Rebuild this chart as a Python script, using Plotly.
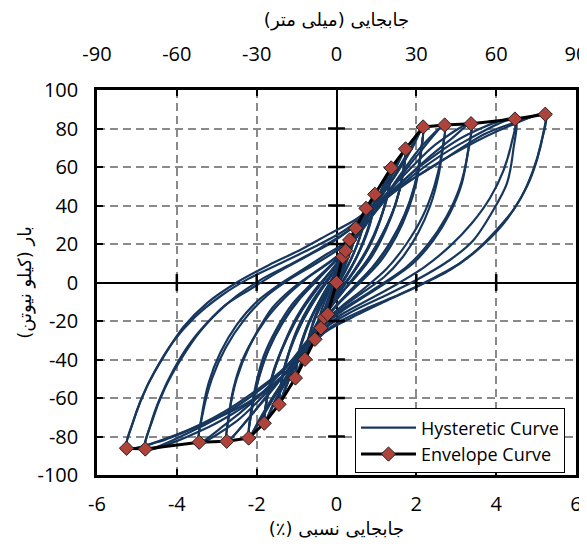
import plotly.graph_objects as go

# ---------------- axis ticks ----------------
drift_ticks = [-6, -4, -2, 0, 2, 4, 6]
mm_ticks = [-90, -60, -30, 0, 30, 60, 90]
load_ticks = [-100, -80, -60, -40, -20, 0, 20, 40, 60, 80, 100]

# ---------------- envelope curve (drift %, load kN) ----------------
env_x = [-5.26, -4.79, -3.44, -2.75, -2.20, -1.81, -1.44, -1.03, -0.79, -0.54, -0.39, -0.31, -0.22,
         0.0, 0.155, 0.23, 0.33, 0.48, 0.74, 0.96, 1.37, 1.73, 2.17, 2.71, 3.37, 4.47, 5.23]
env_y = [-86.1, -86.5, -83.0, -82.5, -80.8, -73.1, -63.3, -49.6, -39.9, -29.5, -23.6, -18.1, -16.5,
         0.0, 13.4, 16.5, 22.1, 28.2, 38.5, 45.8, 59.5, 69.4, 80.8, 81.8, 82.5, 84.9, 87.4]

# ---------------- hysteretic loops ----------------
L01_x = [-0.22, -0.14, -0.03, 0.07, 0.155, 0.08, -0.04, -0.14, -0.22]
L01_y = [-16.5, -8, 0, 6, 13.4, 5, -3, -10, -16.5]

L02_x = [-0.31, -0.22, -0.08, 0.08, 0.23, 0.15, 0.0, -0.17, -0.31]
L02_y = [-18.1, -10, -2, 7, 16.5, 8, 0, -9, -18.1]

L03_x = [-0.39, -0.32, -0.15, 0.05, 0.22, 0.33, 0.25, 0.08, -0.12, -0.28, -0.39]
L03_y = [-23.6, -15, -5, 5, 14, 22.1, 13, 3, -7, -16, -23.6]

L04_x = [-0.54, -0.46, -0.28, -0.02, 0.2, 0.38, 0.48, 0.4, 0.2, -0.05, -0.3, -0.45, -0.54]
L04_y = [-29.5, -20, -9, 3, 13, 21, 28.2, 19, 8, -4, -15, -23, -29.5]

L05_x = [-0.79, -0.7, -0.5, -0.2, 0.1, 0.4, 0.6, 0.74, 0.65, 0.45, 0.15, -0.15, -0.45, -0.65, -0.79]
L05_y = [-39.9, -29, -17, -4, 8, 20, 30, 38.5, 28, 16, 3, -8, -20, -30, -39.9]

L05b_x = [-0.79, -0.68, -0.45, -0.12, 0.2, 0.48, 0.66, 0.74, 0.62, 0.38, 0.05, -0.25, -0.52, -0.7, -0.79]
L05b_y = [-39.9, -27, -13, 0, 11, 23, 32, 38.5, 26, 13, 0, -12, -24, -33, -39.9]

L06_x = [-1.03, -0.95, -0.78, -0.5, -0.15, 0.2, 0.5, 0.75, 0.96, 0.88, 0.7, 0.45, 0.1, -0.25, -0.55, -0.8, -1.03]
L06_y = [-49.6, -38, -26, -13, 0, 12, 24, 35, 45.8, 35, 23, 11, -1, -12, -24, -36, -49.6]

L06b_x = [-1.03, -0.93, -0.7, -0.38, -0.02, 0.33, 0.62, 0.82, 0.96, 0.86, 0.64, 0.32, -0.02, -0.38, -0.66, -0.86, -1.03]
L06b_y = [-49.6, -35, -21, -8, 5, 18, 30, 39, 45.8, 32, 19, 6, -6, -19, -31, -41, -49.6]

L06c_x = [-1.03, -0.94, -0.74, -0.44, -0.08, 0.27, 0.56, 0.79, 0.96, 0.87, 0.67, 0.38, 0.04, -0.32, -0.6, -0.83, -1.03]
L06c_y = [-49.6, -36, -23, -10, 3, 15, 27, 37, 45.8, 33, 21, 8, -4, -16, -28, -39, -49.6]

L07_x = [-1.44, -1.38, -1.22, -0.98, -0.65, -0.25, 0.15, 0.5, 0.85, 1.12, 1.37,
         1.3, 1.15, 0.9, 0.55, 0.15, -0.25, -0.6, -0.95, -1.2, -1.44]
L07_y = [-63.3, -51, -38, -24, -11, 1, 12, 24, 37, 48, 59.5,
         48, 36, 22, 9, -2, -13, -26, -40, -51, -63.3]

L07b_x = [-1.44, -1.35, -1.15, -0.85, -0.45, -0.05, 0.35, 0.7, 1.0, 1.22, 1.37,
          1.28, 1.08, 0.78, 0.4, 0.0, -0.4, -0.75, -1.05, -1.28, -1.44]
L07b_y = [-63.3, -48, -34, -20, -6, 6, 18, 31, 43, 52, 59.5,
          45, 32, 18, 5, -7, -19, -32, -44, -55, -63.3]

L07c_x = [-1.44, -1.36, -1.18, -0.9, -0.55, -0.15, 0.25, 0.6, 0.95, 1.2, 1.37,
          1.29, 1.12, 0.85, 0.48, 0.08, -0.32, -0.68, -1.0, -1.25, -1.44]
L07c_y = [-63.3, -50, -36, -22, -9, 3, 15, 28, 40, 51, 59.5,
          47, 34, 20, 7, -5, -16, -29, -42, -53, -63.3]

L08_x = [-1.81, -1.74, -1.58, -1.32, -1.0, -0.55, -0.1, 0.3, 0.7, 1.1, 1.45, 1.73,
         1.66, 1.5, 1.25, 0.9, 0.45, 0.0, -0.4, -0.8, -1.2, -1.5, -1.81]
L08_y = [-73.1, -60, -46, -32, -18, -4, 7, 18, 32, 46, 58, 69.4,
         56, 42, 28, 14, 2, -8, -18, -33, -47, -60, -73.1]

L08b_x = [-1.81, -1.72, -1.52, -1.22, -0.85, -0.4, 0.05, 0.45, 0.85, 1.2, 1.5, 1.73,
          1.64, 1.45, 1.15, 0.75, 0.3, -0.15, -0.55, -0.95, -1.3, -1.6, -1.81]
L08b_y = [-73.1, -58, -43, -28, -14, -1, 11, 24, 38, 50, 61, 69.4,
          54, 39, 25, 11, -1, -13, -26, -40, -53, -64, -73.1]

L08c_x = [-1.81, -1.73, -1.55, -1.27, -0.92, -0.48, -0.02, 0.38, 0.78, 1.15, 1.48, 1.73,
          1.65, 1.48, 1.2, 0.82, 0.38, -0.08, -0.48, -0.88, -1.25, -1.55, -1.81]
L08c_y = [-73.1, -59, -45, -30, -16, -3, 9, 21, 35, 48, 60, 69.4,
          55, 41, 27, 13, 1, -11, -22, -37, -50, -62, -73.1]

L09_x = [-2.2, -2.15, -2.02, -1.82, -1.5, -1.1, -0.6, -0.1, 0.4, 0.9, 1.4, 1.8, 2.17,
         2.12, 2.0, 1.8, 1.5, 1.1, 0.6, 0.1, -0.4, -0.9, -1.4, -1.8, -2.2]
L09_y = [-80.8, -68, -53, -38, -24, -11, 0, 10, 22, 38, 54, 68, 80.8,
         68, 52, 38, 24, 11, 0, -10, -22, -38, -54, -68, -80.8]

L09b_x = [-2.2, -2.12, -1.95, -1.7, -1.35, -0.9, -0.4, 0.1, 0.6, 1.1, 1.55, 1.9, 2.17,
          2.1, 1.95, 1.7, 1.35, 0.9, 0.4, -0.1, -0.6, -1.1, -1.55, -1.9, -2.2]
L09b_y = [-80.8, -66, -50, -35, -21, -8, 3, 14, 28, 44, 58, 70, 80.8,
          66, 50, 35, 21, 8, -3, -14, -28, -44, -58, -70, -80.8]

L09c_x = [-2.2, -2.13, -1.98, -1.75, -1.42, -1.0, -0.5, 0.0, 0.5, 1.0, 1.48, 1.85, 2.17,
          2.11, 1.97, 1.75, 1.42, 1.0, 0.5, 0.0, -0.5, -1.0, -1.48, -1.85, -2.2]
L09c_y = [-80.8, -67, -52, -37, -23, -10, 1, 12, 25, 41, 56, 69, 80.8,
          67, 51, 37, 23, 10, -1, -12, -25, -41, -56, -69, -80.8]

L10_x = [-2.75, -2.7, -2.58, -2.35, -2.0, -1.6, -1.1, -0.5, 0.1, 0.6, 1.1, 1.6, 2.1, 2.71,
         2.66, 2.55, 2.35, 2.05, 1.65, 1.2, 0.6, 0.0, -0.5, -1.0, -1.6, -2.1, -2.75]
L10_y = [-82.5, -70, -55, -40, -26, -13, -3, 6, 15, 26, 41, 56, 70, 81.8,
         70, 55, 40, 26, 13, 3, -6, -15, -25, -40, -55, -68, -82.5]

L10b_x = [-2.75, -2.68, -2.5, -2.2, -1.8, -1.3, -0.75, -0.2, 0.35, 0.9, 1.5, 2.1, 2.71,
          2.63, 2.45, 2.15, 1.75, 1.25, 0.7, 0.15, -0.35, -0.9, -1.5, -2.1, -2.75]
L10b_y = [-82.5, -67, -50, -34, -20, -8, 2, 10, 20, 35, 52, 68, 81.8,
          66, 50, 34, 20, 7, -3, -12, -21, -36, -53, -68, -82.5]

L11_x = [-3.44, -3.38, -3.2, -2.9, -2.5, -2.0, -1.5, -0.9, -0.3, 0.3, 0.9, 1.7, 2.5, 3.37,
         3.3, 3.14, 2.84, 2.43, 1.92, 1.4, 0.8, 0.2, -0.3, -0.9, -1.7, -2.5, -3.44]
L11_y = [-83.0, -70, -52, -36, -22, -10, -2, 6, 14, 22, 38, 56, 72, 82.5,
         69, 51.5, 36, 22, 10, 2, -6, -14, -22, -38, -56, -72, -83.0]

L11b_x = [-3.44, -3.35, -3.12, -2.78, -2.3, -1.75, -1.15, -0.5, 0.1, 0.7, 1.4, 2.2, 2.9, 3.37,
          3.28, 3.08, 2.75, 2.3, 1.75, 1.2, 0.6, 0.0, -0.6, -1.3, -2.1, -2.8, -3.44]
L11b_y = [-83.0, -68, -50, -34, -19, -7, 2, 10, 18, 30, 47, 63, 75, 82.5,
          66, 49, 34, 20, 8, 0, -8, -16, -27, -45, -62, -74, -83.0]

L12_x = [-4.79, -4.62, -4.3, -3.9, -3.4, -2.8, -2.2, -1.5, -0.8, -0.1, 0.6, 1.3, 2.2, 3.3, 4.47,
         4.43, 4.27, 3.93, 3.43, 2.84, 2.0, 1.2, 0.4, -0.3, -1.0, -2.0, -3.2, -4.79]
L12_y = [-86.5, -72, -55, -40, -25, -12, -4, 5, 13, 21, 32, 46, 62, 77, 84.9,
         69, 51.5, 37.7, 22, 11.7, 1.3, -7, -15, -24, -42, -60, -75, -86.5]

L12b_x = [-4.79, -4.66, -4.42, -4.1, -3.65, -3.1, -2.5, -1.85, -1.1, -0.4, 0.3, 1.1, 2.0, 3.1, 4.47,
          4.38, 4.18, 3.85, 3.4, 2.85, 2.2, 1.5, 0.8, 0.1, -0.5, -1.3, -2.4, -3.6, -4.79]
L12b_y = [-86.5, -74, -60, -46, -31, -18, -7, 2, 10, 18, 27, 41, 57, 72, 84.9,
          72, 58, 44, 31, 19, 8, -1, -9, -17, -27, -45, -63, -77, -86.5]

L13_x = [-5.26, -5.08, -4.75, -4.33, -3.83, -3.25, -2.5, -1.7, -0.9, -0.2, 0.5, 1.3, 2.4, 3.7, 4.6, 5.23,
         5.18, 5.02, 4.77, 4.43, 4.01, 3.51, 2.84, 2.01, 1.2, 0.4, -0.3, -1.1, -2.24, -3.5, -4.5, -5.26]
L13_y = [-86.1, -71.4, -54.1, -38.5, -23, -10.8, 0, 9, 17, 25, 33, 46, 60, 77, 84, 87.4,
         77.5, 63.6, 49.8, 37.7, 27.3, 16.9, 6.5, -2.2, -10, -18, -26, -44, -62.6, -75, -83, -86.1]

L13b_x = [-5.26, -5.12, -4.88, -4.55, -4.1, -3.55, -2.9, -2.2, -1.4, -0.6, 0.2, 1.0, 2.0, 3.2, 4.3, 5.23,
          5.12, 4.92, 4.62, 4.2, 3.7, 3.1, 2.4, 1.6, 0.8, 0.1, -0.6, -1.5, -2.8, -4.0, -5.26]
L13b_y = [-86.1, -74, -60, -46, -31, -18, -7, 2, 10, 18, 27, 40, 55, 70, 81, 87.4,
          72, 58, 44, 31, 20, 10, 2, -6, -13, -20, -30, -48, -67, -79, -86.1]

loops = [
    (L01_x, L01_y), (L02_x, L02_y), (L03_x, L03_y), (L04_x, L04_y),
    (L05_x, L05_y), (L05b_x, L05b_y),
    (L06_x, L06_y), (L06b_x, L06b_y), (L06c_x, L06c_y),
    (L07_x, L07_y), (L07b_x, L07b_y), (L07c_x, L07c_y),
    (L08_x, L08_y), (L08b_x, L08b_y), (L08c_x, L08c_y),
    (L09_x, L09_y), (L09b_x, L09b_y), (L09c_x, L09c_y),
    (L10_x, L10_y), (L10b_x, L10b_y), (L11_x, L11_y), (L11b_x, L11b_y),
    (L12_x, L12_y), (L12b_x, L12b_y), (L13_x, L13_y), (L13b_x, L13b_y),
]

HYST_COLOR = "#17375E"
MARKER_COLOR = "#B0423C"
LATIN = "Open Sans"
ARABIC = "DejaVu Sans"


def rtl(s):
    return "\u202B\u200F" + s + "\u200F\u202C"


fig = go.Figure()

for i, (lx, ly) in enumerate(loops):
    fig.add_trace(go.Scatter(
        x=lx, y=ly, mode="lines",
        line=dict(color=HYST_COLOR, width=2.2, shape="spline", smoothing=0.8),
        name="Hysteretic Curve", legendgroup="hyst", showlegend=(i == 0),
        hoverinfo="skip",
    ))

# cross ticks on the zero axes
zx_ticks = [v for v in drift_ticks if v not in (0, -6, 6)]
zy_ticks = [v for v in load_ticks if v not in (0, -100, 100)]
fig.add_trace(go.Scatter(
    x=zx_ticks, y=[0] * len(zx_ticks), mode="markers",
    marker=dict(symbol="line-ns", size=12, line=dict(color="black", width=2.5)),
    showlegend=False, hoverinfo="skip",
))
fig.add_trace(go.Scatter(
    x=[0] * len(zy_ticks), y=zy_ticks, mode="markers",
    marker=dict(symbol="line-ew", size=12, line=dict(color="black", width=2.5)),
    showlegend=False, hoverinfo="skip",
))

fig.add_trace(go.Scatter(
    x=env_x, y=env_y, mode="lines+markers",
    line=dict(color="black", width=3),
    marker=dict(symbol="diamond", size=11, color=MARKER_COLOR, line=dict(color="#222222", width=1)),
    name="Envelope Curve",
))

# invisible trace to carry the top (mm) axis
fig.add_trace(go.Scatter(
    x=[mm_ticks[0], mm_ticks[-1]], y=[0, 0], xaxis="x2", mode="markers",
    marker=dict(opacity=0), showlegend=False, hoverinfo="skip",
))

tickfont = dict(family=LATIN, size=20, color="black")
titlefont = dict(family=ARABIC, size=18, color="black")
dash = "8px,5px"

fig.update_layout(
    width=579, height=540,
    margin=dict(l=89, r=11, t=82, b=73),
    paper_bgcolor="white", plot_bgcolor="white",
    showlegend=True,
    legend=dict(
        x=0.977, xanchor="right", y=0.004, yanchor="bottom",
        bgcolor="white", bordercolor="black", borderwidth=1,
        font=dict(family=LATIN, size=18, color="black"),
        itemwidth=55, tracegroupgap=0,
    ),
    xaxis=dict(
        range=[-6, 6], tickvals=drift_ticks, ticktext=[str(v) for v in drift_ticks],
        ticks="inside", ticklen=6, tickwidth=2, tickcolor="black",
        showline=True, linewidth=2.5, linecolor="black", mirror=True,
        showgrid=True, gridcolor="#8a8a8a", gridwidth=1.5, griddash=dash,
        zeroline=True, zerolinecolor="black", zerolinewidth=2.2,
        tickfont=tickfont, ticklabelstandoff=9, automargin=False,
        ticklabeloverflow="allow",
        title=dict(text=rtl("جابجایی نسبی (٪)"), font=titlefont, standoff=7),
    ),
    xaxis2=dict(
        overlaying="x", side="top", range=[-90, 90], tickvals=mm_ticks,
        ticktext=[str(v) for v in mm_ticks],
        ticks="inside", ticklen=6, tickwidth=2, tickcolor="black",
        showline=False, showgrid=False, zeroline=False,
        tickfont=tickfont, ticklabelstandoff=24, automargin=False,
        ticklabeloverflow="allow",
        title=dict(text=rtl("جابجایی (میلی متر)"), font=titlefont, standoff=8),
    ),
    yaxis=dict(
        range=[-100, 100], tickvals=load_ticks, ticktext=[str(v) for v in load_ticks],
        ticks="inside", ticklen=6, tickwidth=2, tickcolor="black",
        showline=True, linewidth=2.5, linecolor="black", mirror=True,
        showgrid=True, gridcolor="#8a8a8a", gridwidth=1.5, griddash=dash,
        zeroline=True, zerolinecolor="black", zerolinewidth=2.2,
        tickfont=tickfont, ticklabelstandoff=12, automargin=False,
        title=dict(text=rtl("بار (کیلو نیوتن)"), font=titlefont, standoff=2),
    ),
)

fig.write_html("out.html")
